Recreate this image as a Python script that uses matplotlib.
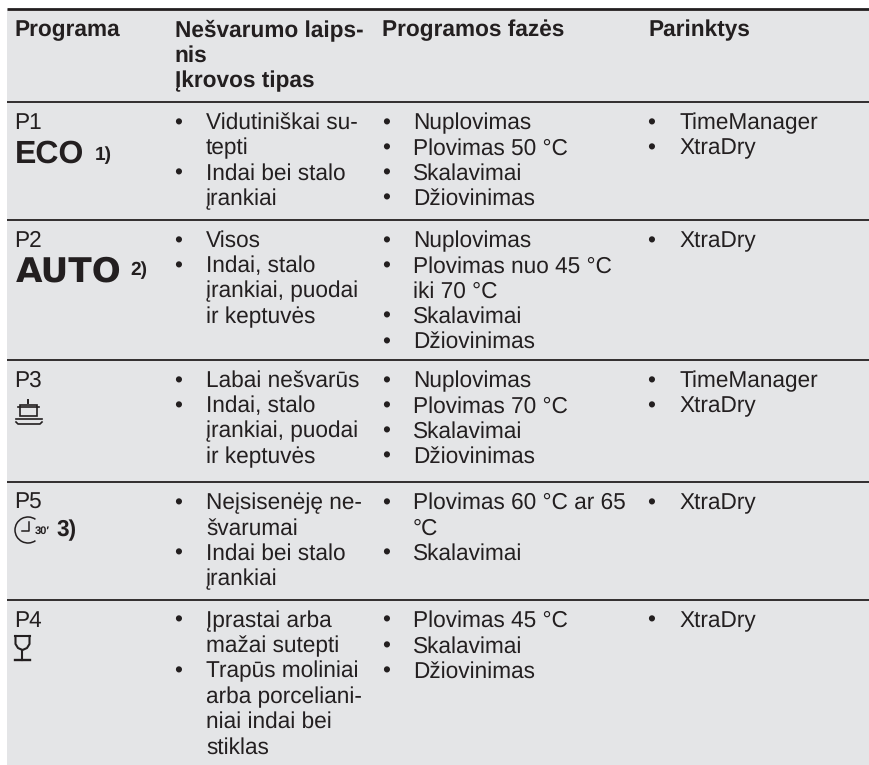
import matplotlib
matplotlib.use("Agg")
import matplotlib.pyplot as plt
from matplotlib.patches import Arc, Rectangle

W, H = 870, 765
BG = "#e4e5e7"
INK = "#231f20"

headers = ["Programa", "Nešvarumo laips-\nnis\nĮkrovos tipas", "Programos fazės", "Parinktys"]
programs = ["P1", "P2", "P3", "P5", "P4"]

# each cell: list of bullets, each bullet is a list of lines
soil = [
    [["Vidutiniškai su-", "tepti"], ["Indai bei stalo", "įrankiai"]],
    [["Visos"], ["Indai, stalo", "įrankiai, puodai", "ir keptuvės"]],
    [["Labai nešvarūs"], ["Indai, stalo", "įrankiai, puodai", "ir keptuvės"]],
    [["Neįsisenėję ne-", "švarumai"], ["Indai bei stalo", "įrankiai"]],
    [["Įprastai arba", "mažai sutepti"], ["Trapūs moliniai", "arba porceliani-", "niai indai bei", "stiklas"]],
]
phases = [
    [["Nuplovimas"], ["Plovimas 50 °C"], ["Skalavimai"], ["Džiovinimas"]],
    [["Nuplovimas"], ["Plovimas nuo 45 °C", "iki 70 °C"], ["Skalavimai"], ["Džiovinimas"]],
    [["Nuplovimas"], ["Plovimas 70 °C"], ["Skalavimai"], ["Džiovinimas"]],
    [["Plovimas 60 °C ar 65", "°C"], ["Skalavimai"]],
    [["Plovimas 45 °C"], ["Skalavimai"], ["Džiovinimas"]],
]
options = [
    [["TimeManager"], ["XtraDry"]],
    [["XtraDry"]],
    [["TimeManager"], ["XtraDry"]],
    [["XtraDry"]],
    [["XtraDry"]],
]

row_lines = [9, 102, 220, 360, 482, 600]
HEAD_X = [14.5, 175, 382, 648]
BULLET_X = [178.5, 386.5, 651.5]
TEXT_X = [206, 413, 679.5]
LINE_H = 25.3
FS = 16.3

plt.rcParams["font.family"] = ["Liberation Sans", "DejaVu Sans"]
plt.rcParams["text.hinting"] = "no_hinting"
fig = plt.figure(figsize=(W / 100, H / 100), dpi=100, facecolor="white")
ax = fig.add_axes([0, 0, 1, 1])
ax.set_xlim(0, W)
ax.set_ylim(H, 0)
ax.axis("off")

ax.add_patch(Rectangle((7, 9), W - 7, H - 9, fc=BG, ec="none"))
for i, y in enumerate(row_lines):
    ax.plot([7, W], [y, y], color=INK, lw=2.0 if i == 0 else 1.3, solid_capstyle="butt")


def put(x, y, text, **kw):
    kw.setdefault("fontsize", FS)
    ax.text(x, y, text, color=INK, va="baseline", **kw)


def draw_cell(col, top, bullets):
    y = top
    for bullet in bullets:
        put(BULLET_X[col], y, "•", ha="center")
        for line in bullet:
            put(TEXT_X[col], y, line, ha="left")
            y += LINE_H


def draw_pot(x, y):
    ax.add_patch(Rectangle((x + 4, y + 2), 17, 11, fc="none", ec=INK, lw=1.2))
    ax.plot([x + 2, x + 23], [y + 4, y + 4], color=INK, lw=1.2)
    ax.plot([x + 12.5, x + 12.5], [y - 3, y], color=INK, lw=1.4)
    ax.plot([x, x + 26], [y + 16, y + 16], color=INK, lw=1.2)
    ax.plot([x, x + 2, x + 24, x + 26], [y + 19, y + 21, y + 21, y + 19], color=INK, lw=1.2)


def draw_clock(x, y):
    ax.add_patch(Arc((x + 12, y), 26, 26, theta1=55, theta2=305, ec=INK, lw=1.1))
    ax.plot([x + 6, x + 13, x + 13], [y + 1, y + 1, y - 8], color=INK, lw=1.1)
    put(x + 26, y + 4, "30′", fontsize=8, fontweight="bold", ha="center")
    put(x + 40.5, y + 6, "3)", fontweight="bold", ha="left")


def draw_glass(x, y):
    ax.plot([x, x + 15], [y, y], color=INK, lw=1.5)
    ax.plot([x + 0.5, x + 0.5, x + 3, x + 7.5, x + 12, x + 14.5, x + 14.5],
            [y, y + 8, y + 12, y + 14, y + 12, y + 8, y], color=INK, lw=1.5)
    ax.plot([x + 7.5, x + 7.5], [y + 14, y + 24], color=INK, lw=1.5)
    ax.plot([x, x + 15], [y + 24, y + 24], color=INK, lw=1.7)


# header
for x, text in zip(HEAD_X, headers):
    for j, line in enumerate(text.split("\n")):
        put(x, 36.5 + j * LINE_H, line, fontweight="bold", ha="left")

# rows
for i, top in enumerate(row_lines[1:]):
    first = top + 27
    put(14, first, programs[i], ha="left")
    draw_cell(0, first, soil[i])
    draw_cell(1, first, phases[i])
    draw_cell(2, first, options[i])

# program symbols
put(14.5, 163, "ECO", fontsize=23, fontweight="bold", ha="left")
put(95, 160, "1)", fontsize=13.8, fontweight="bold", ha="left")
put(15.5, 281.5, "AUTO", fontsize=24.7, fontweight="bold", ha="left", family="DejaVu Sans")
put(130, 275, "2)", fontsize=13.8, fontweight="bold", ha="left")
draw_pot(16, 403)
draw_clock(16, 530)
draw_glass(15, 636)

fig.savefig("out.png", dpi=100)
